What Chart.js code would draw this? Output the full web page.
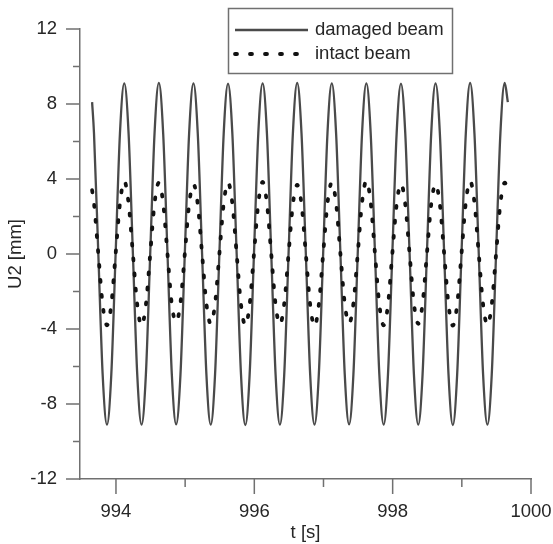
<!DOCTYPE html>
<html>
<head>
<meta charset="utf-8">
<script src="https://cdn.jsdelivr.net/npm/chart.js@4.4.1/dist/chart.umd.min.js"></script>
<style>
  html, body { margin: 0; padding: 0; background: #ffffff; }
  #wrap { width: 553px; height: 544px; }
</style>
</head>
<body>
<div id="wrap"><canvas id="c" width="553" height="544"></canvas></div>
<script>
// Sample times [s]
const time = [
  993.655,
  993.6825, 993.745, 993.8075, 993.87, 993.9325, 993.995, 994.0575,
  994.12, 994.1825, 994.245, 994.3075, 994.37, 994.4325, 994.495, 994.5575,
  994.62, 994.6825, 994.745, 994.8075, 994.87, 994.9325, 994.995, 995.0575,
  995.12, 995.1825, 995.245, 995.3075, 995.37, 995.4325, 995.495, 995.5575,
  995.62, 995.6825, 995.745, 995.8075, 995.87, 995.9325, 995.995, 996.0575,
  996.12, 996.1825, 996.245, 996.3075, 996.37, 996.4325, 996.495, 996.5575,
  996.62, 996.6825, 996.745, 996.8075, 996.87, 996.9325, 996.995, 997.0575,
  997.12, 997.1825, 997.245, 997.3075, 997.37, 997.4325, 997.495, 997.5575,
  997.62, 997.6825, 997.745, 997.8075, 997.87, 997.9325, 997.995, 998.0575,
  998.12, 998.1825, 998.245, 998.3075, 998.37, 998.4325, 998.495, 998.5575,
  998.62, 998.6825, 998.745, 998.8075, 998.87, 998.9325, 998.995, 999.0575,
  999.12, 999.1825, 999.245, 999.3075, 999.37, 999.4325, 999.495, 999.5575,
  999.62, 999.665
];

// Vertical displacement U2 [mm], damaged beam
const damagedBeam = [
  8.1,
  6.43, 0, -6.43, -9.1, -6.43, 0, 6.43,
  9.1, 6.43, 0, -6.43, -9.1, -6.43, 0, 6.43,
  9.12, 6.43, 0, -6.43, -9.08, -6.43, 0, 6.43,
  9.1, 6.43, 0, -6.43, -9.1, -6.43, 0, 6.43,
  9.08, 6.43, 0, -6.43, -9.12, -6.43, 0, 6.43,
  9.1, 6.43, 0, -6.43, -9.1, -6.43, 0, 6.43,
  9.12, 6.43, 0, -6.43, -9.1, -6.43, 0, 6.43,
  9.1, 6.43, 0, -6.43, -9.08, -6.43, 0, 6.43,
  9.1, 6.43, 0, -6.43, -9.1, -6.43, 0, 6.43,
  9.08, 6.43, 0, -6.43, -9.1, -6.43, 0, 6.43,
  9.1, 6.43, 0, -6.43, -9.12, -6.43, 0, 6.43,
  9.12, 6.43, 0, -6.43, -9.1, -6.43, 0, 6.43,
  9.12, 8.1
];

// Vertical displacement U2 [mm], intact beam
const intactBeam = [
  3.4,
  2.7, 0, -2.7, -3.8, -2.7, 0, 2.7,
  3.88, 2.7, 0, -2.7, -3.82, -2.7, 0, 2.7,
  3.8, 2.7, 0, -2.7, -3.62, -2.6, 0, 2.65,
  3.72, 2.65, 0, -2.65, -3.72, -2.65, 0, 2.7,
  3.8, 2.7, 0, -2.7, -3.8, -2.7, 0, 2.7,
  3.84, 2.7, 0, -2.7, -3.75, -2.65, 0, 2.65,
  3.68, 2.65, 0, -2.7, -3.85, -2.7, 0, 2.7,
  3.8, 2.7, 0, -2.65, -3.7, -2.65, 0, 2.75,
  3.9, 2.75, 0, -2.7, -3.8, -2.7, 0, 2.65,
  3.74, 2.65, 0, -2.65, -3.72, -2.65, 0, 2.65,
  3.72, 2.65, 0, -2.7, -3.82, -2.7, 0, 2.75,
  3.88, 2.75, 0, -2.7, -3.78, -2.7, 0, 2.7,
  3.8, 3.45
];

const seriesLabels = ['damaged beam', 'intact beam'];

// Axis ticks
const xMajorTicks = [994, 996, 998, 1000];
const xMinorTicks = [995, 997, 999];
const yMajorTicks = [-12, -8, -4, 0, 4, 8, 12];
const yMinorTicks = [-10, -6, -2, 2, 6, 10];

const AXIS_COLOR = '#707070';
const TEXT_COLOR = '#262626';
const FONT_FAMILY = '"Liberation Sans", Arial, Helvetica, sans-serif';
const FONT_SIZE = 18.5;

// Outward tick marks on both axes (major and minor)
const tickMarks = {
  id: 'tickMarks',
  afterDraw(chart) {
    const { ctx, chartArea: a, scales: { x, y } } = chart;
    ctx.save();
    ctx.strokeStyle = AXIS_COLOR;
    ctx.lineWidth = 1.5;
    ctx.beginPath();
    const xMark = (v, len) => { const p = x.getPixelForValue(v); ctx.moveTo(p, a.bottom); ctx.lineTo(p, a.bottom + len); };
    const yMark = (v, len) => { const p = y.getPixelForValue(v); ctx.moveTo(a.left, p); ctx.lineTo(a.left - len, p); };
    xMajorTicks.forEach(v => xMark(v, 15));
    xMinorTicks.forEach(v => xMark(v, 8));
    yMajorTicks.forEach(v => yMark(v, 14));
    yMinorTicks.forEach(v => yMark(v, 7));
    ctx.stroke();
    ctx.restore();
  }
};

// Framed legend in the upper part of the plot
const boxLegend = {
  id: 'boxLegend',
  afterDraw(chart) {
    const { ctx } = chart;
    ctx.save();
    ctx.lineWidth = 1.5;
    ctx.strokeStyle = AXIS_COLOR;
    ctx.strokeRect(228.5, 8.5, 224, 65);
    chart.data.datasets.forEach((ds, i) => {
      const yy = 30 + i * 24;
      ctx.beginPath();
      ctx.lineWidth = ds.borderWidth;
      ctx.strokeStyle = ds.borderColor;
      ctx.setLineDash(ds.borderDash || []);
      ctx.lineCap = ds.borderCapStyle || 'butt';
      ctx.moveTo(235, yy);
      ctx.lineTo(i === 0 ? 308 : 297, yy);
      ctx.stroke();
      ctx.setLineDash([]);
      ctx.fillStyle = TEXT_COLOR;
      ctx.font = FONT_SIZE + 'px ' + FONT_FAMILY;
      ctx.textBaseline = 'middle';
      ctx.textAlign = 'left';
      ctx.fillText(ds.label, 315, yy);
    });
    ctx.restore();
  }
};

const font = { family: FONT_FAMILY, size: FONT_SIZE };
const plainNumber = v => String(v);

new Chart(document.getElementById('c'), {
  type: 'line',
  data: {
    datasets: [
      {
        label: seriesLabels[0],
        data: time.map((t, i) => ({ x: t, y: damagedBeam[i] })),
        borderColor: '#4a4a4a',
        borderWidth: 2.3,
        pointRadius: 0,
        cubicInterpolationMode: 'monotone',
        fill: false,
        order: 1
      },
      {
        label: seriesLabels[1],
        data: time.map((t, i) => ({ x: t, y: intactBeam[i] })),
        borderColor: '#111111',
        borderWidth: 3.8,
        borderDash: [2, 13],
        borderCapStyle: 'round',
        pointRadius: 0,
        cubicInterpolationMode: 'monotone',
        fill: false,
        order: 0
      }
    ]
  },
  options: {
    responsive: false,
    animation: false,
    devicePixelRatio: 1,
    layout: { padding: { top: 29, right: 22, bottom: 0, left: 0 } },
    plugins: {
      legend: { display: false },
      tooltip: { enabled: false }
    },
    scales: {
      x: {
        type: 'linear',
        min: 993.48,
        max: 1000,
        afterBuildTicks: s => { s.ticks = xMajorTicks.map(v => ({ value: v })); },
        afterFit: s => { s.height = 65; s.paddingLeft = 0; s.paddingRight = 0; },
        ticks: { font, color: TEXT_COLOR, padding: 22, maxRotation: 0, autoSkip: false, callback: plainNumber },
        grid: { display: true, drawOnChartArea: false, drawTicks: false },
        border: { display: true, color: AXIS_COLOR, width: 1.5 },
        title: { display: true, text: 't [s]', font, color: TEXT_COLOR, padding: { top: 0, bottom: 0 } }
      },
      y: {
        type: 'linear',
        min: -12,
        max: 12,
        afterBuildTicks: s => { s.ticks = yMajorTicks.map(v => ({ value: v })); },
        afterFit: s => { s.width = 80; s.paddingTop = 0; s.paddingBottom = 0; },
        ticks: { font, color: TEXT_COLOR, padding: 23, autoSkip: false, callback: plainNumber },
        grid: { display: true, drawOnChartArea: false, drawTicks: false },
        border: { display: true, color: AXIS_COLOR, width: 1.5 },
        title: { display: true, text: 'U2 [mm]', font, color: TEXT_COLOR, padding: { top: 5, bottom: 0 } }
      }
    }
  },
  plugins: [tickMarks, boxLegend]
});
</script>
</body>
</html>
